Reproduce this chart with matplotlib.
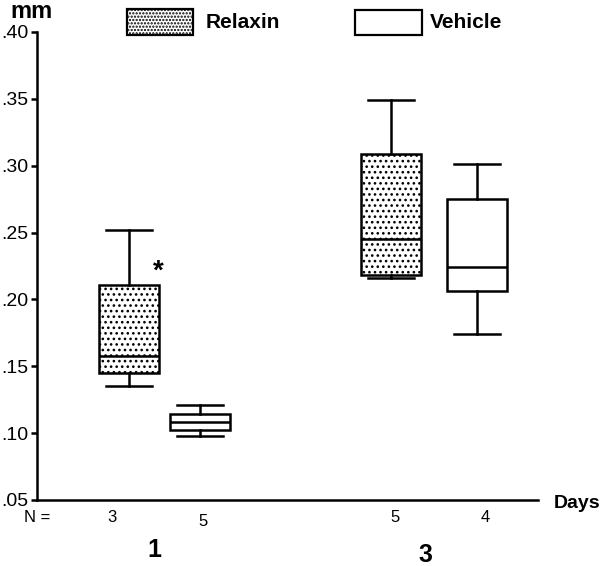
import matplotlib
matplotlib.use("Agg")
import matplotlib.pyplot as plt
from matplotlib.patches import Rectangle

plt.rcParams['font.family'] = ['Liberation Sans', 'DejaVu Sans']
plt.rcParams['hatch.linewidth'] = 1.1

groups = ["Relaxin", "Vehicle", "Relaxin", "Vehicle"]
days = ["1", "3"]
n_labels = ["3", "5", "5", "4"]
whislo = [0.135, 0.098, 0.216, 0.174]
q1 = [0.145, 0.102, 0.218, 0.206]
med = [0.158, 0.108, 0.245, 0.224]
q3 = [0.211, 0.114, 0.309, 0.275]
whishi = [0.252, 0.121, 0.349, 0.301]
yticks = [0.05, 0.10, 0.15, 0.20, 0.25, 0.30, 0.35, 0.40]
ytick_labels = [".05", ".10", ".15", ".20", ".25", ".30", ".35", ".40"]

positions = [0.92, 1.63, 3.54, 4.40]

fig = plt.figure(figsize=(6.0, 5.66), dpi=100)
ax = fig.add_axes([37/600, 1-500/566, 501/600, 468/566])

stats = []
for i in range(4):
    stats.append(dict(whislo=whislo[i], q1=q1[i], med=med[i], q3=q3[i],
                      whishi=whishi[i], fliers=[], label=groups[i]))

lw = 1.8
bp = ax.bxp(stats, positions=positions, widths=0.60, capwidths=0.46,
            patch_artist=True, showfliers=False,
            boxprops=dict(linewidth=lw, edgecolor='black', facecolor='white'),
            whiskerprops=dict(linewidth=lw, color='black'),
            capprops=dict(linewidth=lw, color='black'),
            medianprops=dict(linewidth=lw, color='black'))
for i, b in enumerate(bp['boxes']):
    if groups[i] == "Relaxin":
        b.set_hatch('...')

ax.set_xlim(0, 5.01)
ax.set_ylim(0.05, 0.40)
ax.spines['top'].set_visible(False)
ax.spines['right'].set_visible(False)
ax.spines['left'].set_linewidth(lw)
ax.spines['bottom'].set_linewidth(lw)
ax.set_xticks([])
ax.set_yticks(yticks)
ax.set_yticklabels(ytick_labels, fontsize=14)
ax.tick_params(axis='y', direction='out', length=4, width=lw, pad=2)

# significance star
ax.text(1.21, 0.221, "*", fontsize=20, fontweight='bold', ha='center', va='center')

# N labels
fig.text(37/600, 1-518/566, "N =", fontsize=12, ha='center', va='center')
n_y = [518, 521, 517, 517]
n_x = [112, 203, 395, 485]
for i in range(4):
    fig.text(n_x[i]/600, 1-n_y[i]/566, n_labels[i], fontsize=12, ha='center', va='center')

# day labels
fig.text(154/600, 1-550/566, days[0], fontsize=18, fontweight='bold', ha='center', va='center')
fig.text(425/600, 1-555/566, days[1], fontsize=18, fontweight='bold', ha='center', va='center')

fig.text(577/600, 1-503/566, "Days", fontsize=14, fontweight='bold', ha='center', va='center')
fig.text(32/600, 1-12/566, "mm", fontsize=17, fontweight='bold', ha='center', va='center')

# legend
fig.patches.append(Rectangle((127/600, 1-35/566), 66/600, 26/566, transform=fig.transFigure,
                             facecolor='white', edgecolor='black', linewidth=1.6, hatch='.....'))
fig.text(206/600, 1-22/566, "Relaxin", fontsize=15, fontweight='bold', ha='left', va='center')
fig.patches.append(Rectangle((355/600, 1-35/566), 67/600, 25/566, transform=fig.transFigure,
                             facecolor='white', edgecolor='black', linewidth=1.6))
fig.text(430/600, 1-23/566, "Vehicle", fontsize=15, fontweight='bold', ha='left', va='center')

fig.savefig("out.png", dpi=100)
